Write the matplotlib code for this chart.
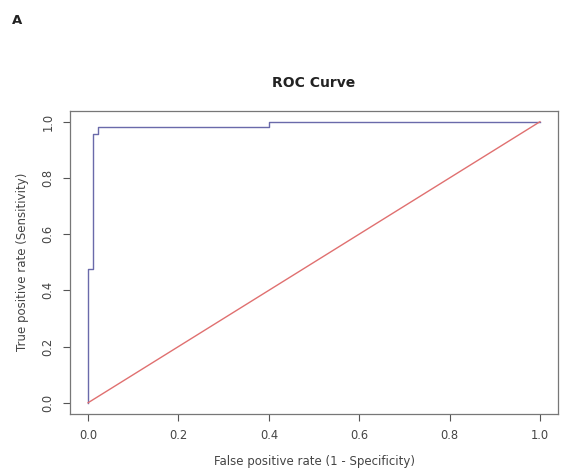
import matplotlib
matplotlib.use("Agg")
import matplotlib.pyplot as plt

# ROC curve points (false positive rate, true positive rate)
fpr = [0.0, 0.0, 0.012, 0.012, 0.021, 0.021, 0.40, 0.40, 1.0]
tpr = [0.0, 0.475, 0.475, 0.955, 0.955, 0.982, 0.982, 1.0, 1.0]
diag_x = [0.0, 1.0]
diag_y = [0.0, 1.0]
ticks = [0.0, 0.2, 0.4, 0.6, 0.8, 1.0]
tick_labels = ["0.0", "0.2", "0.4", "0.6", "0.8", "1.0"]

plt.rcParams['font.family'] = ['DejaVu Sans']

fig = plt.figure(figsize=(5.66, 4.74), dpi=100)
ax = fig.add_axes([70/566, (474-414)/474, 488/566, 303.5/474])

ax.plot(fpr, tpr, color="#6a6aaa", lw=1.0)
ax.plot(diag_x, diag_y, color="#e07070", lw=1.0)

ax.set_xlim(-0.04, 1.04)
ax.set_ylim(-0.04, 1.04)
ax.set_xticks(ticks)
ax.set_xticklabels(tick_labels)
ax.set_yticks(ticks)
ax.set_yticklabels(tick_labels, rotation=90, va="center")
ax.tick_params(axis="both", direction="out", length=5, width=0.8, colors="#555555",
               labelsize=8.3, labelcolor="#444444", pad=6)
for s in ax.spines.values():
    s.set_color("#777777")
    s.set_linewidth(0.9)

ax.set_xlabel("False positive rate (1 - Specificity)", fontsize=8.5, color="#444444", labelpad=9)
ax.set_ylabel("True positive rate (Sensitivity)", fontsize=8.5, color="#444444", labelpad=9)
ax.set_title("ROC Curve", fontsize=10, fontweight="bold", color="#222222", pad=17)

fig.text(17/566, 1 - 20/474, "A", fontsize=9.5, fontweight="bold", color="#222222",
         ha="center", va="center")

fig.savefig("out.png", dpi=100)
